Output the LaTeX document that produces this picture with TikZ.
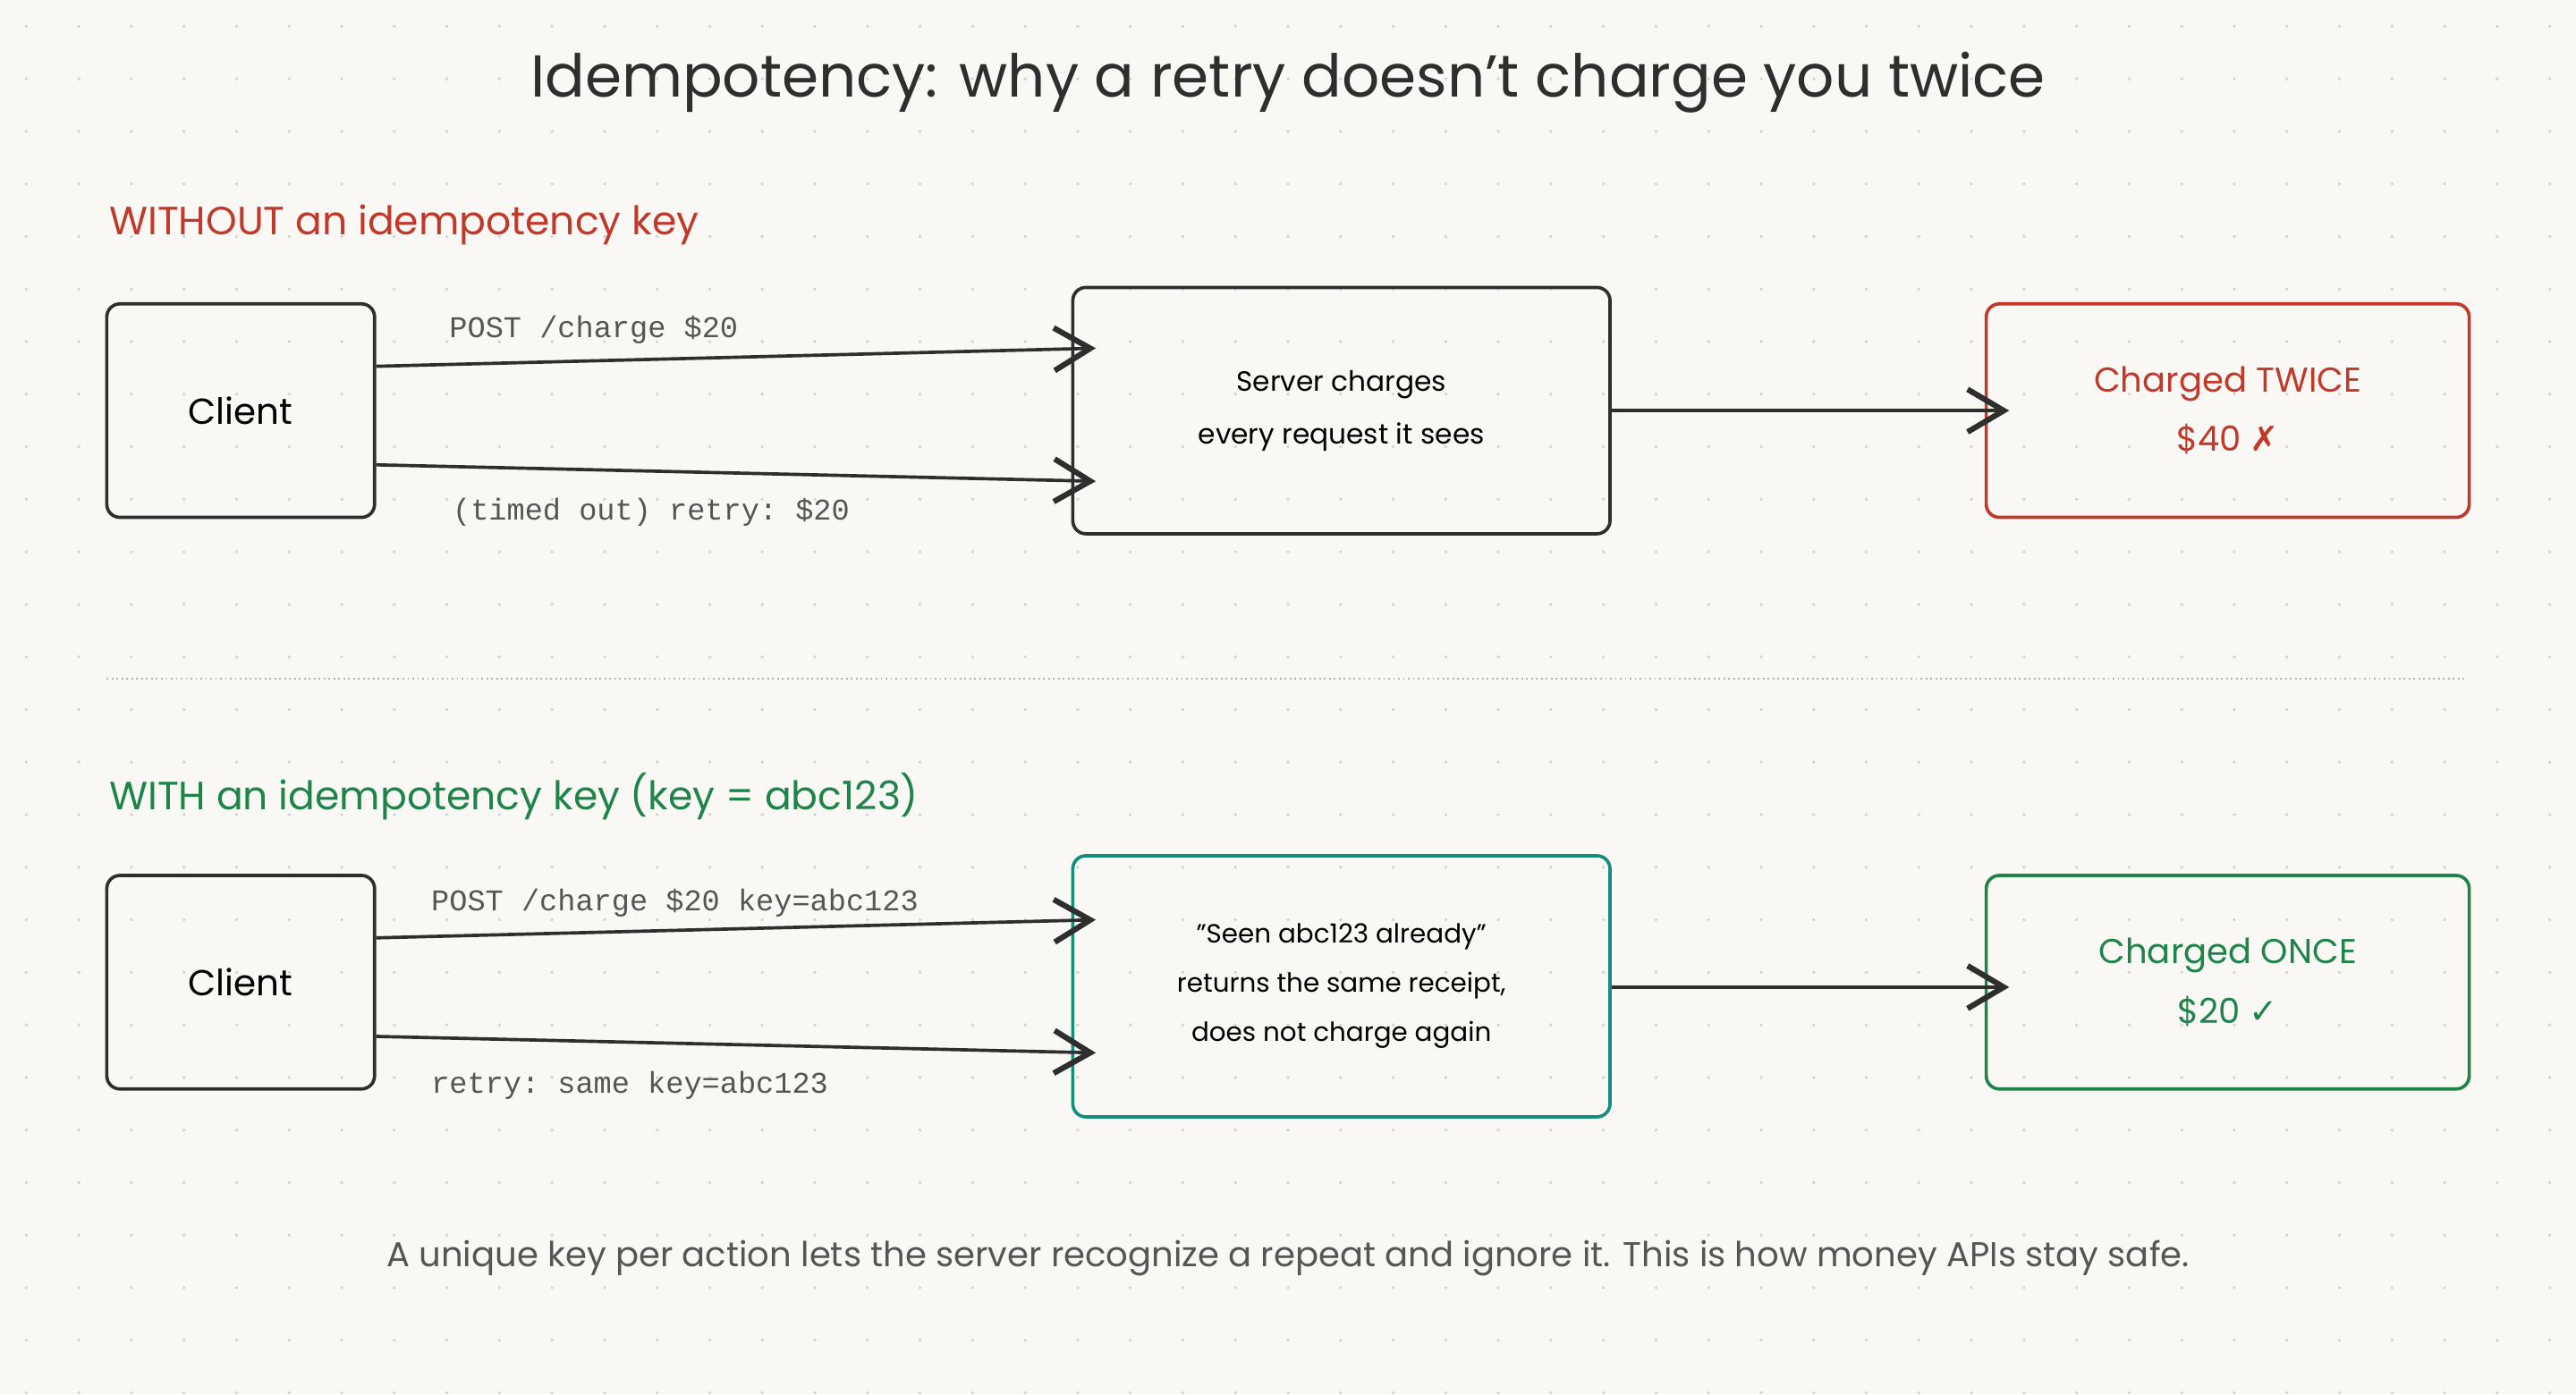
\documentclass[tikz,border=0pt]{standalone}
\usepackage{fontspec}
\setmainfont{Poppins}
\setmonofont{Liberation Mono}
\newfontfamily\symf{DejaVu Sans}
\usetikzlibrary{arrows.meta}
\definecolor{bg}{HTML}{F9F8F4}
\definecolor{ink}{HTML}{2E2E2E}
\definecolor{myred}{HTML}{C0392B}
\definecolor{mygreen}{HTML}{1E8449}
\definecolor{myteal}{HTML}{138D7E}
\definecolor{mygray}{HTML}{555555}
\begin{document}
\begin{tikzpicture}[x=1pt,y=-1pt,
  box/.style={draw=ink,line width=2pt,rounded corners=8pt,align=center,inner sep=0pt},
  conn/.style={draw=ink,line width=2pt,-{Straight Barb[length=22pt,width=26pt,line width=3.4pt]}},
  lbl/.style={font=\fontsize{18.3}{20}\ttfamily,text=mygray,anchor=west},
  boxtxt/.style={font=\fontsize{17}{32}\selectfont}]
\fill[bg] (0,0) rectangle (1568,849);
\useasboundingbox (0,0) rectangle (1568,849);
\foreach \x in {16,48,...,1568} \foreach \y in {16,48,...,849} \fill[black!18] (\x,\y) circle (1pt);
\node[font=\fontsize{36}{40}\selectfont,text=ink] (title) at (784,50) {Idempotency: why a retry doesn't charge you twice};
\node[font=\fontsize{24}{28}\selectfont,text=myred,anchor=west] (h1) at (63,137) {WITHOUT an idempotency key};
\node[font=\fontsize{24}{28}\selectfont,text=mygreen,anchor=west] (h2) at (63,485) {WITH an idempotency key (key = abc123)};
\draw[black!30,line width=1pt,dotted] (65,413) -- (1500,413);
% top row
\node[box,minimum width=163pt,minimum height=130pt,font=\fontsize{22}{24}\selectfont] (c1) at (146.5,250) {Client};
\node[box,minimum width=327pt,minimum height=150pt,boxtxt] (s1) at (816.5,250) {Server charges\\every request it sees};
\node[box,draw=myred,minimum width=294pt,minimum height=130pt,font=\fontsize{21}{36}\selectfont,text=myred] (r1) at (1356,250) {Charged TWICE\\\$40 {\symf ✗}};
\coordinate (a1) at ([xshift=15pt]s1.west|-0,212);
\coordinate (a2) at ([xshift=15pt]s1.west|-0,293);
\coordinate (a3) at ([xshift=15pt]r1.west);
\draw[conn] (c1.east|-0,223) -- (a1);
\draw[conn] (c1.east|-0,283) -- (a2);
\draw[conn] (s1.east) -- (a3);
\node[lbl] (l1) at (270,201) {POST /charge \$20};
\node[lbl] (l2) at (272,312) {(timed out) retry: \$20};
% bottom row
\node[box,minimum width=163pt,minimum height=130pt,font=\fontsize{22}{24}\selectfont] (c2) at (146.5,598) {Client};
\node[box,draw=myteal,minimum width=327pt,minimum height=159pt,font=\fontsize{16}{30}\selectfont] (s2) at (816.5,600.5) {"Seen abc123 already"\\returns the same receipt,\\does not charge again};
\node[box,draw=mygreen,minimum width=294pt,minimum height=130pt,font=\fontsize{21}{36}\selectfont,text=mygreen] (r2) at (1356,598) {Charged ONCE\\\$20 {\symf ✓}};
\coordinate (b1) at ([xshift=15pt]s2.west|-0,560);
\coordinate (b2) at ([xshift=15pt]s2.west|-0,641);
\coordinate (b3) at ([xshift=15pt]r2.west|-0,601);
\draw[conn] (c2.east|-0,571) -- (b1);
\draw[conn] (c2.east|-0,631) -- (b2);
\draw[conn] (s2.east|-0,601) -- (b3);
\node[lbl] (l3) at (259,550) {POST /charge \$20 key=abc123};
\node[lbl] (l4) at (259,661) {retry: same key=abc123};
\node[font=\fontsize{21}{24}\selectfont,text=mygray] (foot) at (784,766) {A unique key per action lets the server recognize a repeat and ignore it. This is how money APIs stay safe.};
\end{tikzpicture}
\end{document}
